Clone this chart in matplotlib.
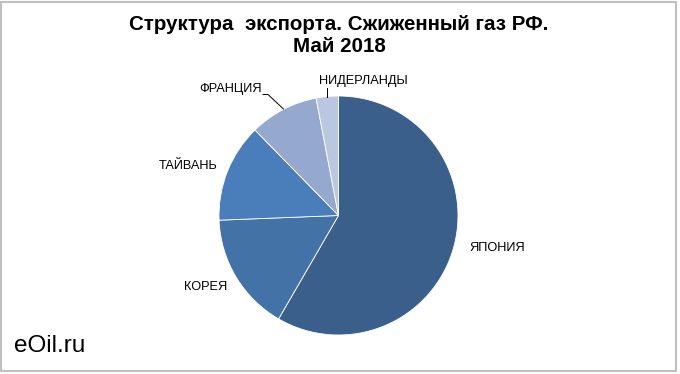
import matplotlib
matplotlib.use('Agg')
import matplotlib.pyplot as plt
from matplotlib.patches import Rectangle

plt.rcParams['font.family'] = ['Liberation Sans', 'DejaVu Sans']

# data (shares of export, %)
countries = ['ЯПОНИЯ', 'КОРЕЯ', 'ТАЙВАНЬ', 'ФРАНЦИЯ', 'НИДЕРЛАНДЫ']
shares = [58.3, 16.0, 13.3, 9.3, 3.0]
colors = ['#3B5F8B', '#4272A6', '#4A7EBB', '#95A8CE', '#BAC7E1']

# label positions in pixels (x, y from top)
label_pos = [(497, 248), (206, 287), (188, 166), (231, 89), (363, 81)]

W, H = 680, 374
fig = plt.figure(figsize=(W / 100, H / 100), dpi=100)
ax = fig.add_axes([0, 0, 1, 1])
ax.set_xlim(0, W)
ax.set_ylim(0, H)
ax.set_aspect('equal')
ax.axis('off')

ax.pie(shares, colors=colors, startangle=90, counterclock=False,
       center=(338.5, H - 215.5), radius=119.5,
       wedgeprops=dict(edgecolor='white', linewidth=0.6))
ax.set_xlim(0, W)
ax.set_ylim(0, H)

for name, (x, y) in zip(countries, label_pos):
    ax.text(x, H - y, name, ha='center', va='center', fontsize=9.2, color='black')

# leader lines
ax.plot([263, 268, 283.5], [H - 94.5, H - 94.5, H - 109], color='black', lw=0.7)
ax.plot([326.7, 326.7], [H - 88, H - 96.5], color='black', lw=0.7)

# title
ax.text(339, H - 24, 'Структура  экспорта. Сжиженный газ РФ.', ha='center', va='center',
        fontsize=14.8, fontweight='bold')
ax.text(339, H - 46, 'Май 2018', ha='center', va='center',
        fontsize=14.8, fontweight='bold')

ax.text(14, H - 346, 'eOil.ru', ha='left', va='center', fontsize=17.5)

# frame
fig.patches.append(Rectangle((1 / W, 3 / H), 675 / W, 369 / H, transform=fig.transFigure,
                             fill=False, edgecolor='#BFBFBF', lw=1.5))

fig.savefig('out.png', dpi=100)
